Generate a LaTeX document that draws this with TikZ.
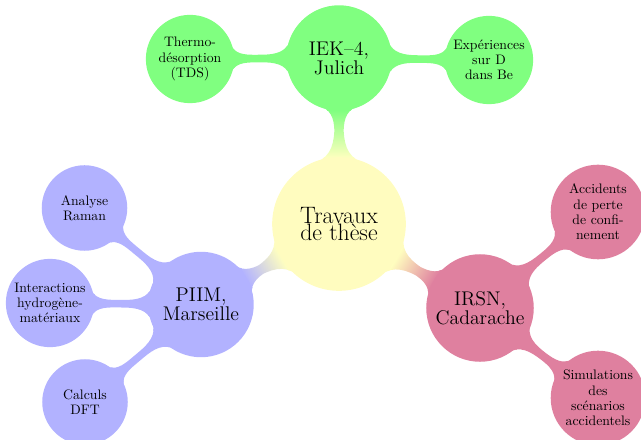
\documentclass[tikz,border=0pt]{standalone}
\usetikzlibrary{mindmap,backgrounds}
\begin{document}
\begin{tikzpicture}[mindmap, x=0.7273pt, y=-0.7273pt,
  rootc/.style={concept, concept color=yellow!25, minimum size=96pt, inner sep=0pt,
    text width={}, align=center, text=black, font=\fontsize{17.28}{12.6}\selectfont},
  lone/.style={concept, minimum size=75.5pt, inner sep=0pt,
    text width={}, align=center, text=black, font=\fontsize{14.4}{11.7}\selectfont},
  ltwo/.style={concept, minimum size=61pt, inner sep=0pt,
    text width={}, align=center, text=black, font=\fontsize{10}{11.1}\selectfont},
  bar/.style args={#1 to #2}{circle connection bar switch color=from (#1) to (#2)},
]
\useasboundingbox (0,0) rectangle (641,440);
\node[rootc] (root) at (339,224) {Travaux\\de thèse};
% green
\node[lone, concept color=green!50] (iek) at (339,58) {IEK--4,\\Julich};
\node[ltwo, concept color=green!50, minimum size=63pt] (tds) at (190,59) {Thermo-\\désorption\\(TDS)};
\node[ltwo, concept color=green!50, minimum size=63pt] (exp) at (489,60) {Expériences\\sur D\\dans Be};
% blue
\node[lone, concept color=blue!30] (piim) at (201,304.5) {PIIM,\\Marseille};
\node[ltwo, concept color=blue!30] (ram) at (84.5,208) {Analyse\\Raman};
\node[ltwo, concept color=blue!30, minimum size=63pt] (int) at (50,303) {Interactions\\hydrogène-\\matériaux};
\node[ltwo, concept color=blue!30] (dft) at (85,402) {Calculs\\DFT};
% purple
\node[lone, concept color=purple!50, minimum size=77pt] (irsn) at (480,308) {IRSN,\\Cadarache};
\node[ltwo, concept color=purple!50, minimum size=67.6pt] (acc) at (598,212) {Accidents\\de perte\\de confi-\\nement};
\node[ltwo, concept color=purple!50, minimum size=67.6pt] (sim) at (598,398) {Simulations\\des\\scénarios\\accidentels};
\begin{scope}[on background layer]
\path (root) to[bar=yellow!25 to green!50] (iek);
\path (root) to[bar=yellow!25 to blue!30] (piim);
\path (root) to[bar=yellow!25 to purple!50] (irsn);
\path (iek) to[bar=green!50 to green!50] (tds);
\path (iek) to[bar=green!50 to green!50] (exp);
\path (piim) to[bar=blue!30 to blue!30] (ram);
\path (piim) to[bar=blue!30 to blue!30] (int);
\path (piim) to[bar=blue!30 to blue!30] (dft);
\path (irsn) to[bar=purple!50 to purple!50] (acc);
\path (irsn) to[bar=purple!50 to purple!50] (sim);
\end{scope}
\end{tikzpicture}
\end{document}
